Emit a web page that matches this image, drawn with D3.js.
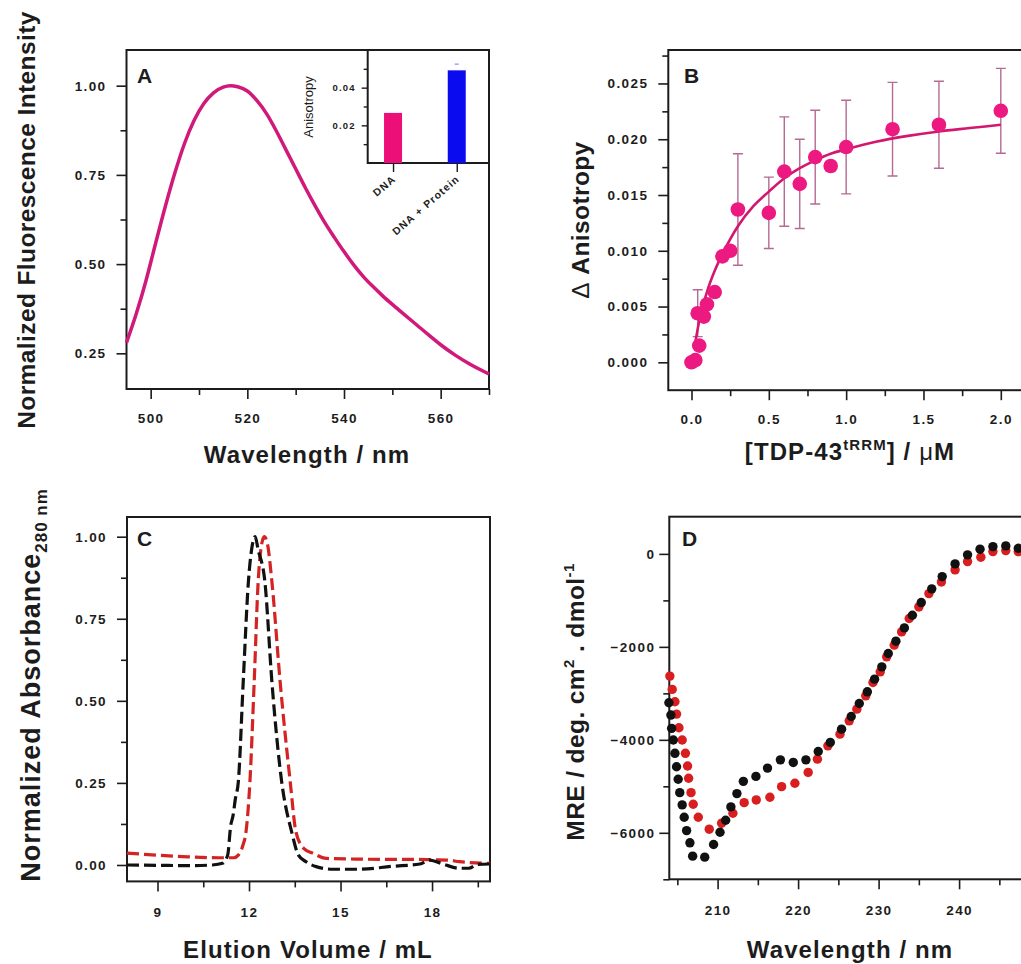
<!DOCTYPE html>
<html>
<head>
<meta charset="utf-8">
<script src="https://cdn.jsdelivr.net/npm/d3@7"></script>
<style>
  body { margin: 0; background: #fff; }
  text { font-family: "Liberation Sans", Arial, sans-serif; font-weight: bold; fill: #1c1c1c; }
</style>
</head>
<body>
<svg width="1021" height="964"></svg>
<script>
var svg = d3.select("svg");
var ink = "#1c1c1c";

// ---- panel A: emission spectrum + anisotropy inset
var specWl  = [495, 497, 499, 501, 503, 505, 507, 509, 511, 513, 515, 516.5, 518, 520, 522, 524, 526, 528, 530, 532, 534, 536, 538, 540, 542, 544, 546, 548, 550, 552, 555, 558, 560, 563, 566, 570];
var specInt = [0.28, 0.36, 0.452, 0.557, 0.66, 0.755, 0.838, 0.903, 0.95, 0.98, 0.996, 1.0, 0.997, 0.985, 0.958, 0.921, 0.873, 0.82, 0.767, 0.714, 0.664, 0.617, 0.575, 0.535, 0.498, 0.465, 0.437, 0.411, 0.387, 0.364, 0.330, 0.296, 0.274, 0.245, 0.220, 0.192];
var insetCats = ["DNA", "DNA + Protein"];
var insetVals = [0.0266, 0.0492];
var insetErr  = [0, 0.0033];
var insetCols = ["#ec0f78", "#0b0bef"];

// ---- panel B: titration
var conc  = [0, 0.025, 0.05, 0.04, 0.08, 0.1, 0.15, 0.2, 0.25, 0.3, 0.5, 0.6, 0.7, 0.8, 0.9, 1.0, 1.3, 1.6, 2.0];
var dAni  = [0, 0.0002, 0.0015, 0.0044, 0.0041, 0.0052, 0.0063, 0.0095, 0.0100, 0.0137, 0.0134, 0.0171, 0.0160, 0.0184, 0.0176, 0.0193, 0.0209, 0.0213, 0.02255];
var dErr  = [0, 0, 0, 0.0021, 0, 0, 0, 0, 0, 0.005, 0.0032, 0.0049, 0.004, 0.0042, 0, 0.0042, 0.0042, 0.0039, 0.0038];
var fitX  = [0.02, 0.05, 0.1, 0.15, 0.2, 0.3, 0.4, 0.5, 0.6, 0.7, 0.8, 0.9, 1.0, 1.2, 1.4, 1.6, 1.8, 2.0];
var fitY  = [0.0014, 0.0037, 0.0063, 0.0082, 0.0097, 0.0122, 0.0140, 0.0153, 0.0165, 0.0174, 0.0181, 0.0187, 0.0191, 0.0198, 0.0203, 0.0207, 0.0210, 0.0213];

// ---- panel C: size exclusion
var secBlackV = [8.0, 9.0, 10.0, 10.8, 11.13, 11.3, 11.4, 11.48, 11.55, 11.65, 11.81, 11.98, 12.1, 12.2, 12.3, 12.52, 12.75, 13.07, 13.4, 13.62, 13.87, 14.2, 14.75, 15.6, 16.7, 17.6, 17.92, 18.2, 18.45, 18.9, 19.2, 19.5, 19.9];
var secBlackA = [0.0, -0.001, -0.002, 0.0, 0.005, 0.03, 0.12, 0.152, 0.2, 0.254, 0.558, 0.863, 0.97, 1.0, 0.96, 0.863, 0.558, 0.254, 0.10, 0.03, 0.01, -0.005, -0.013, -0.013, -0.004, 0.003, 0.015, 0.008, 0.0, -0.01, -0.01, 0.002, 0.003];
var secRedV = [8.0, 9.0, 10.0, 11.0, 11.5, 11.65, 11.8, 11.9, 12.03, 12.17, 12.3, 12.42, 12.5, 12.6, 12.75, 13.02, 13.35, 13.54, 13.8, 14.09, 14.53, 15.5, 16.5, 17.5, 18.0, 18.5, 18.9, 19.9];
var secRedA = [0.036, 0.03, 0.025, 0.022, 0.022, 0.03, 0.06, 0.1, 0.254, 0.558, 0.863, 0.98, 1.0, 0.98, 0.863, 0.558, 0.254, 0.10, 0.05, 0.036, 0.02, 0.018, 0.017, 0.017, 0.016, 0.015, 0.01, 0.005];

// ---- panel D: CD spectra
var cdBlackWl = [203.95, 204.2, 204.29, 204.5, 204.7, 204.9, 205.1, 205.3, 205.6, 205.85, 206.15, 206.56, 206.9, 208.4, 209.5, 210.3, 211.0, 211.65, 212.4, 213.2, 214.76, 216.2, 217.8, 219.4, 220.97, 222.5, 224.0, 225.4, 226.6, 227.6, 228.6, 229.5, 230.4, 231.2, 232.15, 233.2, 234.2, 235.3, 236.6, 237.9, 239.5, 241.05, 242.6, 244.2, 245.8, 247.35];
var cdBlackMre = [-3203, -3467, -3753, -4004, -4290, -4578, -4848, -5136, -5400, -5665, -5952, -6215, -6502, -6524, -6251, -5987, -5729, -5443, -5157, -4893, -4786, -4608, -4430, -4486, -4430, -4250, -4056, -3770, -3497, -3218, -2967, -2694, -2430, -2142, -1878, -1592, -1320, -1047, -752, -488, -215, -21, 101, 157, 172, 122];
var cdRedWl = [204.07, 204.36, 204.7, 204.9, 205.2, 205.6, 206.0, 206.27, 206.4, 206.7, 206.97, 207.6, 208.96, 210.5, 211.9, 213.3, 214.8, 216.5, 217.95, 219.6, 221.25, 222.4, 223.7, 225.2, 226.35, 227.3, 228.4, 229.3, 230.2, 231.0, 231.94, 232.86, 233.8, 235.0, 236.25, 237.8, 239.5, 241.05, 242.7, 244.2, 245.8, 247.35];
var cdRedMre = [-2629, -2915, -3181, -3446, -3740, -4004, -4290, -4563, -4827, -5136, -5385, -5665, -5922, -5793, -5579, -5351, -5293, -5235, -5007, -4934, -4700, -4415, -4129, -3878, -3592, -3340, -3054, -2767, -2537, -2215, -1963, -1678, -1390, -1141, -854, -604, -344, -165, -71, 49, 71, 49];

// frame + outward major/minor ticks
function drawAxes(x, y, o) {
  var x0 = x.range()[0], x1 = x.range()[1], y0 = y.range()[0], y1 = y.range()[1];
  var g = svg.append("g");
  g.append("rect")
    .attr("x", x0).attr("y", y1).attr("width", x1 - x0).attr("height", y0 - y1)
    .attr("fill", "none").attr("stroke", ink).attr("stroke-width", 2);
  g.append("g").attr("transform", "translate(0," + y0 + ")")
    .call(d3.axisBottom(x).tickValues(o.xMajor).tickSize(10).tickPadding(o.xPad || 14).tickFormat(o.xFmt));
  g.append("g").attr("transform", "translate(0," + y0 + ")")
    .call(d3.axisBottom(x).tickValues(o.xMinor).tickSize(6).tickFormat(""));
  g.append("g").attr("transform", "translate(" + x0 + ",0)")
    .call(d3.axisLeft(y).tickValues(o.yMajor).tickSize(10).tickPadding(o.yPad || 10).tickFormat(o.yFmt));
  g.append("g").attr("transform", "translate(" + x0 + ",0)")
    .call(d3.axisLeft(y).tickValues(o.yMinor).tickSize(6).tickFormat(""));
  g.selectAll(".domain").remove();
  g.selectAll(".tick line").attr("stroke", ink).attr("stroke-width", 1.6);
  g.selectAll(".tick text").attr("font-size", 13.5).attr("letter-spacing", 1.4).attr("fill", ink);
  return g;
}

function panelLabel(txt, x, y) {
  svg.append("text").attr("x", x).attr("y", y).attr("font-size", 21).text(txt);
}

function xTitle(x, y) {
  return svg.append("text").attr("x", x).attr("y", y).attr("text-anchor", "middle")
    .attr("font-size", 24).attr("letter-spacing", 1.1);
}

function yTitle(x, y, fs) {
  return svg.append("text").attr("transform", "translate(" + x + "," + y + ") rotate(-90)")
    .attr("text-anchor", "middle").attr("font-size", fs || 24).attr("letter-spacing", 0.4);
}

// ================= A =================
var xA = d3.scaleLinear().domain([495, 570]).range([126.5, 489]);
var yA = d3.scaleLinear().domain([0.15, 1.10]).range([389, 50]);
drawAxes(xA, yA, {
  xMajor: [500, 520, 540, 560], xMinor: [510, 530, 550, 570], xFmt: d3.format("d"),
  yMajor: [0.25, 0.5, 0.75, 1.0], yMinor: [0.375, 0.625, 0.875], yFmt: d3.format(".2f")
});
svg.append("path")
  .datum(d3.zip(specWl, specInt))
  .attr("fill", "none").attr("stroke", "#d0197a").attr("stroke-width", 3.5)
  .attr("d", d3.line().x(d => xA(d[0])).y(d => yA(d[1])).curve(d3.curveMonotoneX));
panelLabel("A", 137, 83);
yTitle(35, 220, 24.5).text("Normalized Fluorescence Intensity");
xTitle(307, 463).text("Wavelength / nm");

// inset
var ix = d3.scalePoint().domain(insetCats).range([367.7, 489]).padding(0.452).align(0.44);
var iy = d3.scaleLinear().domain([0, 0.06]).range([163, 50]);
var ig = svg.append("g");
ig.append("rect").attr("x", 367.7).attr("y", 50).attr("width", 489 - 367.7).attr("height", 113)
  .attr("fill", "#fff").attr("stroke", ink).attr("stroke-width", 2);
ig.selectAll(".bar").data(insetCats).enter().append("rect")
  .attr("x", d => ix(d) - 9).attr("width", 18)
  .attr("y", (d, i) => iy(insetVals[i])).attr("height", (d, i) => iy(0) - iy(insetVals[i]))
  .attr("fill", (d, i) => insetCols[i]);
ig.selectAll(".cap").data(insetCats.filter((d, i) => insetErr[i] > 0)).enter().append("line")
  .attr("x1", d => ix(d) - 2).attr("x2", d => ix(d) + 2)
  .attr("y1", d => iy(insetVals[insetCats.indexOf(d)] + insetErr[insetCats.indexOf(d)]))
  .attr("y2", d => iy(insetVals[insetCats.indexOf(d)] + insetErr[insetCats.indexOf(d)]))
  .attr("stroke", "#8a8af5").attr("stroke-width", 1.2);
var iax = ig.append("g").attr("transform", "translate(367.7,0)")
  .call(d3.axisLeft(iy).tickValues([0.02, 0.04]).tickSize(6).tickPadding(6).tickFormat(d3.format(".2f")));
ig.append("g").attr("transform", "translate(367.7,0)")
  .call(d3.axisLeft(iy).tickValues([0.01, 0.03, 0.05]).tickSize(4).tickFormat(""));
var ibx = ig.append("g").attr("transform", "translate(0,163)")
  .call(d3.axisBottom(ix).tickSize(9).tickFormat(d => d));
ig.selectAll(".domain").remove();
ig.selectAll(".tick line").attr("stroke", ink).attr("stroke-width", 1.4);
iax.selectAll(".tick text").attr("font-size", 9.5).attr("letter-spacing", 1.2).attr("fill", ink);
ibx.selectAll(".tick text").attr("font-size", 10.5).attr("letter-spacing", 1.1).attr("fill", ink)
  .attr("text-anchor", "end").attr("dy", null).attr("y", 0)
  .attr("transform", "translate(3,17) rotate(-41)");
ig.append("text").attr("transform", "translate(313,107) rotate(-90)").attr("text-anchor", "middle")
  .attr("font-size", 13).style("font-weight", "normal").text("Anisotropy");

// ================= B =================
var xB = d3.scaleLinear().domain([-0.15, 2.15]).range([668.3, 1024]);
var yB = d3.scaleLinear().domain([-0.0025, 0.028]).range([390.2, 50]);
drawAxes(xB, yB, {
  xMajor: [0, 0.5, 1.0, 1.5, 2.0], xMinor: [0.25, 0.75, 1.25, 1.75], xFmt: d3.format(".1f"),
  yMajor: [0, 0.005, 0.01, 0.015, 0.02, 0.025], yMinor: [0.0025, 0.0075, 0.0125, 0.0175, 0.0225, 0.0275], yFmt: d3.format(".3f")
});
var bg = svg.append("g");
var errIdx = d3.range(conc.length).filter(i => dErr[i] > 0);
bg.selectAll(".eb").data(errIdx).enter().append("path")
  .attr("fill", "none").attr("stroke", "#b56a93").attr("stroke-width", 1.4)
  .attr("d", i => {
    var cx = xB(conc[i]), t = yB(dAni[i] + dErr[i]), b = yB(dAni[i] - dErr[i]);
    return "M" + (cx - 5) + "," + t + "H" + (cx + 5) + "M" + cx + "," + t + "V" + b + "M" + (cx - 5) + "," + b + "H" + (cx + 5);
  });
bg.append("path")
  .datum(d3.zip(fitX, fitY))
  .attr("fill", "none").attr("stroke", "#d3176f").attr("stroke-width", 2.6)
  .attr("d", d3.line().x(d => xB(d[0])).y(d => yB(d[1])).curve(d3.curveMonotoneX));
bg.selectAll(".pt").data(d3.range(conc.length)).enter().append("circle")
  .attr("cx", i => xB(conc[i])).attr("cy", i => yB(dAni[i])).attr("r", 7.3)
  .attr("fill", "#ec1a80");
panelLabel("B", 684, 83);
var tB = yTitle(589, 220, 24.5);
tB.append("tspan").style("font-weight", "normal").text("\u0394");
tB.append("tspan").text(" Anisotropy");
var xtB = xTitle(850, 460);
xtB.append("tspan").text("[TDP-43");
xtB.append("tspan").attr("font-size", 15).attr("dy", -10).text("tRRM");
xtB.append("tspan").attr("dy", 10).text("] / ");
xtB.append("tspan").style("font-weight", "normal").text("\u03bc");
xtB.append("tspan").text("M");

// ================= C =================
var xC = d3.scaleLinear().domain([8, 19.9]).range([127, 490]);
var yC = d3.scaleLinear().domain([-0.05, 1.06]).range([881.4, 517]);
drawAxes(xC, yC, {
  xMajor: [9, 12, 15, 18], xMinor: [10.5, 13.5, 16.5, 19.5], xFmt: d3.format("d"), xPad: 16,
  yMajor: [0, 0.25, 0.5, 0.75, 1.0], yMinor: [0.125, 0.375, 0.625, 0.875], yFmt: d3.format(".2f")
});
var lineC = d3.line().x(d => xC(d[0])).y(d => yC(d[1])).curve(d3.curveMonotoneX);
svg.append("path").datum(d3.zip(secRedV, secRedA))
  .attr("fill", "none").attr("stroke", "#d42323").attr("stroke-width", 3.2).attr("stroke-dasharray", "12,5")
  .attr("d", lineC);
svg.append("path").datum(d3.zip(secBlackV, secBlackA))
  .attr("fill", "none").attr("stroke", "#111").attr("stroke-width", 3.2).attr("stroke-dasharray", "12,5")
  .attr("d", lineC);
panelLabel("C", 137, 546);
var tC = yTitle(40, 685, 27);
tC.attr("letter-spacing", 1);
tC.append("tspan").text("Normalized Absorbance");
tC.append("tspan").attr("font-size", 17).attr("dy", 7).text("280 nm");
xTitle(308, 958).text("Elution Volume / mL");

// ================= D =================
var xD = d3.scaleLinear().domain([204, 248]).range([669.3, 1023.5]);
var yD = d3.scaleLinear().domain([-7000, 800]).range([879.3, 516.7]);
drawAxes(xD, yD, {
  xMajor: [210, 220, 230, 240], xMinor: [205, 215, 225, 235, 245], xFmt: d3.format("d"), xPad: 16,
  yMajor: [0, -2000, -4000, -6000], yMinor: [-1000, -3000, -5000, -7000], yFmt: d3.format("d"), yPad: 4
});
svg.append("g").selectAll("circle").data(d3.range(cdRedWl.length)).enter().append("circle")
  .attr("cx", i => xD(cdRedWl[i])).attr("cy", i => yD(cdRedMre[i])).attr("r", 4.7)
  .attr("fill", "#d81e1e");
svg.append("g").selectAll("circle").data(d3.range(cdBlackWl.length)).enter().append("circle")
  .attr("cx", i => xD(cdBlackWl[i])).attr("cy", i => yD(cdBlackMre[i])).attr("r", 4.7)
  .attr("fill", "#111");
panelLabel("D", 682, 546);
var tD = yTitle(584, 702, 24.5);
tD.append("tspan").text("MRE / deg. cm");
tD.append("tspan").attr("font-size", 15).attr("dy", -10).text("2");
tD.append("tspan").attr("dy", 10).text(" . dmol");
tD.append("tspan").attr("font-size", 15).attr("dy", -10).text("-1");
xTitle(850, 958).text("Wavelength / nm");
</script>
</body>
</html>
